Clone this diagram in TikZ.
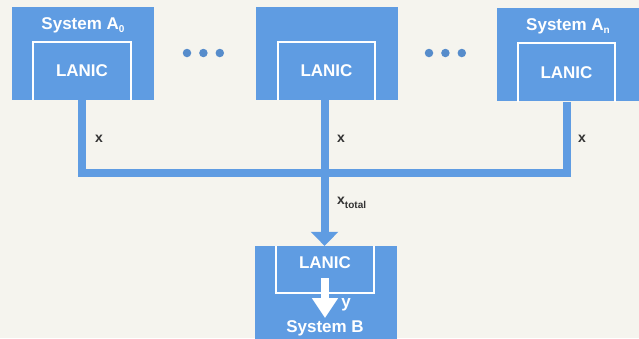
\documentclass[tikz,border=0pt]{standalone}
\usepackage{fontspec}
\setmainfont{Liberation Sans}
\usetikzlibrary{arrows.meta,positioning}
\definecolor{lanblue}{HTML}{5F9CE2}
\definecolor{paper}{HTML}{F5F4EE}
\definecolor{ink}{HTML}{333333}
\newcommand{\lowsub}[1]{\raisebox{-0.35ex}{\fontsize{10}{11}\selectfont #1}}

\begin{document}
\begin{tikzpicture}[x=1pt, y=-1pt,
  sysbox/.style={rectangle, fill=lanblue, minimum width=142pt, minimum height=93pt, inner sep=0pt},
  lanic/.style={rectangle, minimum width=97pt, minimum height=58pt, inner sep=0pt, text=white, font=\fontsize{17}{18}\selectfont\bfseries},
  title/.style={text=white, font=\fontsize{17}{18}\selectfont\bfseries, inner sep=0pt},
  frame/.style={draw=white, line width=2pt},
  bus/.style={draw=lanblue, line width=8pt},
  flow/.style={font=\fontsize{14}{15}\selectfont\bfseries, text=ink, inner sep=0pt},
  dot/.style={circle, fill=lanblue!90!black, minimum size=8.5pt, inner sep=0pt}
]
  % Background
  \fill[paper] (0,0) rectangle (639,338);
  \clip (0,0) rectangle (639,338);
  % Sending systems
  \node[sysbox] (a0) at (83,53.5) {};
  \node[sysbox] (a1) at (327,53.5) {};
  \node[sysbox] (an) at (568,54.5) {};
  \node[title] (t0) at (83,25) {System A\lowsub{0}};
  \node[title] (tn) at (568,26) {System A\lowsub{n}};
  \node[lanic] (l0) at (82,71) {LANIC};
  \node[lanic] (l1) at (326.5,71) {LANIC};
  \node[lanic] (ln) at (566.5,72.5) {LANIC};
  \foreach \n in {l0,l1,ln}
    \draw[frame] (\n.south west) -- (\n.north west) -- (\n.north east) -- (\n.south east);
  % Dots
  \node[dot] (d1) at (187,53) {};
  \node[dot, right=7.5pt of d1] (d2) {};
  \node[dot, right=7.5pt of d2] (d3) {};
  \node[dot] (d4) at (429,53) {};
  \node[dot, right=7.5pt of d4] (d5) {};
  \node[dot, right=7.5pt of d5] (d6) {};
  % Receiving system
  \node[sysbox, minimum height=100pt] (b) at (325.5,296) {};
  \node[lanic, minimum height=47pt] (lb) at (325,269.5) {};
  \node[title] (lbt) at (325,263) {LANIC};
  \node[title] (tb) at (325,328) {System B};
  \draw[frame] (lb.north west) -- (lb.south west) -- (lb.south east) -- (lb.north east);
  % Bus
  \coordinate (busL) at (l0.south |- 0,172.5);
  \coordinate (busR) at (ln.south |- 0,172.5);
  \coordinate (busM) at (324.5,172.5);
  \draw[bus, line join=miter] (l0.south) -- (busL) -- (busR) -- (ln.south);
  \draw[bus] (l1.south -| busM) -- (busM);
  \draw[bus, -{Triangle[width=27pt,length=14pt]}] (busM) -- (busM |- lb.north);
  % Inner flow
  \coordinate (yfrom) at (325,278);
  \coordinate (yto) at (325,318);
  \draw[draw=white, line width=8pt, -{Triangle[width=25pt,length=20pt]}] (yfrom) -- (yto);
  % Labels
  \node[flow] (x0) at (99,139) {x};
  \node[flow] (x1) at (341,139) {x};
  \node[flow] (xn) at (582,139) {x};
  \node[flow, anchor=west] (xt) at (337,203) {x\raisebox{-0.5ex}{\fontsize{10}{11}\selectfont total}};
  \node[flow, text=white, font=\fontsize{17}{18}\selectfont\bfseries] (y) at (346,305) {y};
\end{tikzpicture}
\end{document}
